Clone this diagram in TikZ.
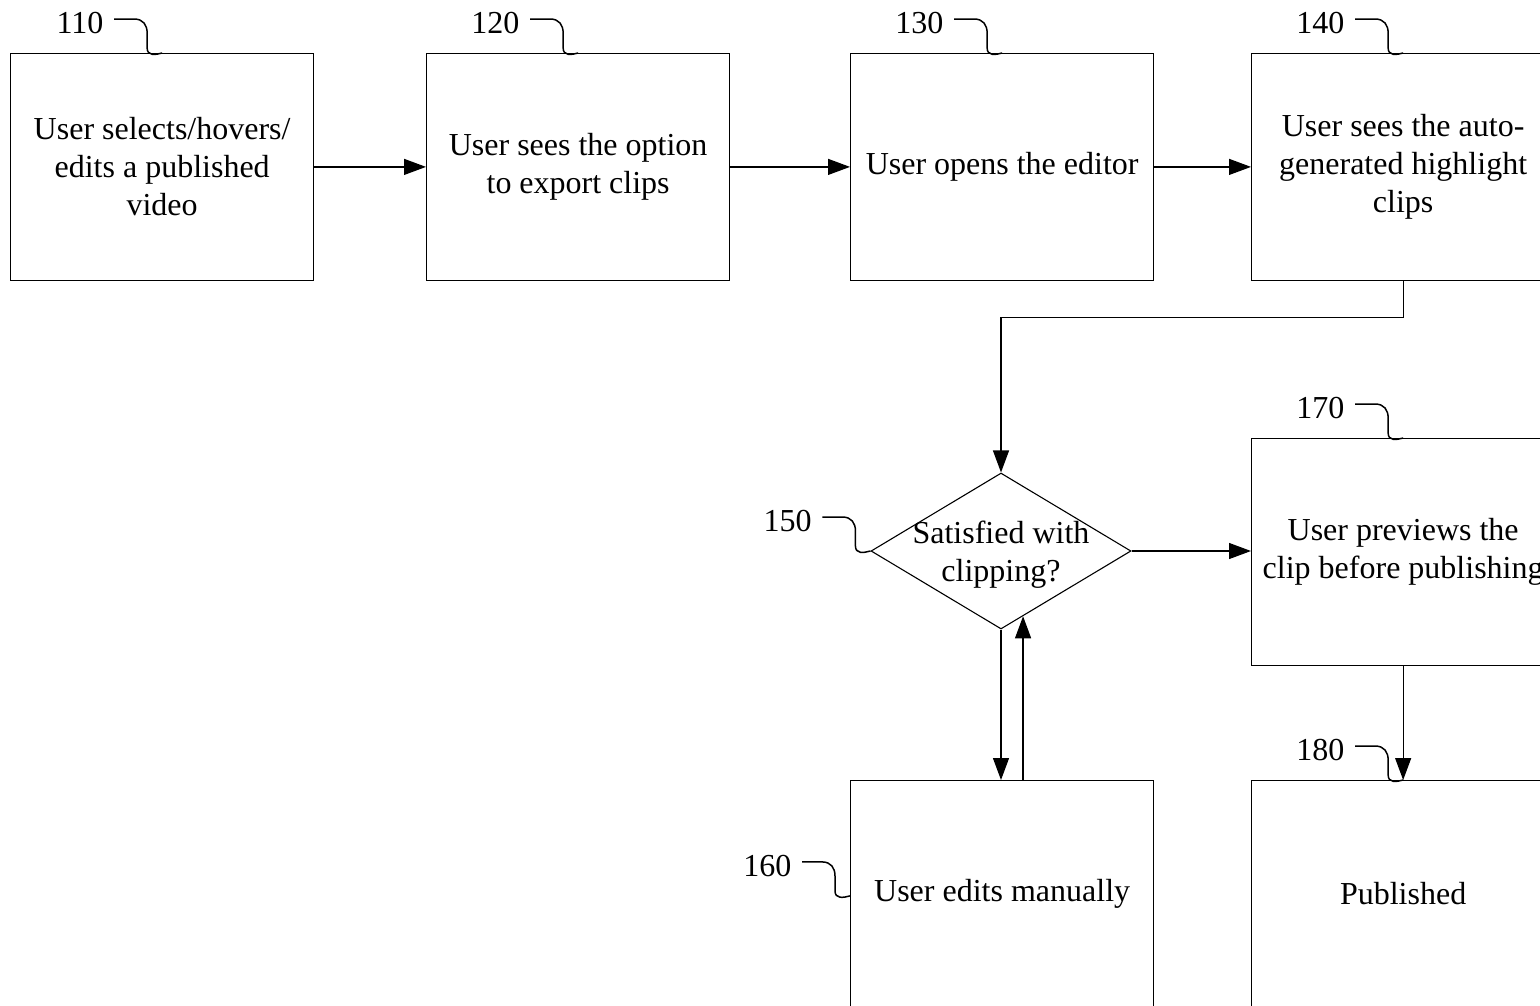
\documentclass[tikz,border=0pt]{standalone}
\usepackage{fontspec}
\setmainfont{Liberation Serif}
\usetikzlibrary{shapes.geometric,arrows.meta,calc}

% reference numeral with its hooked leader line ending at #1
\newcommand\refmark[3]{%
  \draw[leader] (#1) ++(-48,-34) node[reflabel] (#2) {#3}
    -- ++(20,0) .. controls +(9,0) and +(0,-8) .. ++(13,14)
    -- ++(0,15) .. controls +(0,8) and +(-7,2) .. ++(15,5);}

\begin{document}
\begin{tikzpicture}[x=1pt,y=-1pt,
  txt/.style={font=\fontsize{32}{38}\selectfont},
  stepbox/.style={txt, draw, line width=1.3pt, minimum width=303pt,
    minimum height=226.5pt, inner sep=0pt, align=center, anchor=north west},
  decision/.style={draw, diamond, line width=1.1pt, minimum width=260pt,
    minimum height=156pt, inner sep=0pt, aspect=1.667},
  flow/.style={line width=1.2pt, -{Triangle[length=22pt,width=16pt]}},
  leader/.style={line width=1.5pt},
  reflabel/.style={txt, anchor=east, inner sep=0pt, xshift=-10pt, yshift=-4pt}]
\useasboundingbox (0,0) rectangle (1540,1005);
\clip (0,0) rectangle (1540,1005);

% process steps
\node[stepbox] (n110) at (10,53)   {User selects/hovers/\\edits a published\\video};
\node[stepbox] (n120) at (426,53)  {User sees the option\\to export clips};
\node[stepbox] (n130) at (850,53)  {User opens the editor};
\node[stepbox] (n140) at (1251,53) {User sees the auto-\\generated highlight\\clips};
\node[decision] (n150) at (1001,551) {};
\node[txt, align=center, inner sep=0pt, yshift=-4pt] (t150) at (n150.center) {Satisfied with\\clipping?};
\node[stepbox] (n170) at (1251,438) {User previews the\\clip before publishing};
\node[stepbox] (n160) at (850,780)  {User edits manually};
\node[stepbox] (n180) at (1251,780) {Published};

% flow connectors
\draw[flow] (n110.east) -- (n120.west);
\draw[flow] (n120.east) -- (n130.west);
\draw[flow] (n130.east) -- (n140.west);
\draw[flow] (n140.south) -- ++(0,37) -| (n150.north);
\draw[flow] (n150.east) -- (n150.east -| n170.west);
\draw[flow] (n150.south) -- (n150.south |- n160.north);
\coordinate (r150) at ($(n150.south)!0.169!(n150.east)$);
\draw[flow] (r150 |- n160.north) -- (r150);
\draw[flow] (n170.south) -- (n180.north);

% reference numerals
\refmark{n110.north}{l110}{110}
\refmark{n120.north}{l120}{120}
\refmark{n130.north}{l130}{130}
\refmark{n140.north}{l140}{140}
\refmark{n150.west}{l150}{150}
\coordinate (e160) at ($(n160.west)+(0,2)$);
\refmark{e160}{l160}{160}
\refmark{n170.north}{l170}{170}
\refmark{n180.north}{l180}{180}
\end{tikzpicture}
\end{document}
